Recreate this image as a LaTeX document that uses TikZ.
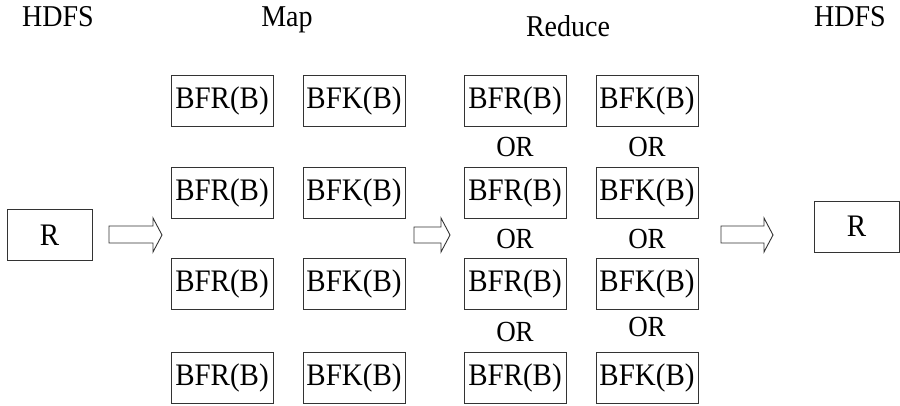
\documentclass[tikz,border=0pt]{standalone}
\usepackage{fontspec}
\setmainfont{Liberation Serif}
% text drawn slightly taller than wide, as in a narrow Times cut
\newcommand{\tallish}[1]{\scalebox{1}[1.08]{#1}}
\begin{document}
\begin{tikzpicture}[x=1pt,y=-1pt,
  cell/.style={draw=black!80,line width=0.9pt,rectangle,inner sep=0pt,
    minimum width=102pt,minimum height=51pt,
    font=\fontsize{29}{29}\selectfont},
  rbox/.style={draw=black!80,line width=0.9pt,rectangle,inner sep=0pt,
    minimum width=85pt,minimum height=51pt,
    font=\fontsize{29}{29}\selectfont},
  head/.style={anchor=base,inner sep=0pt,font=\fontsize{28}{28}\selectfont},
  orlabel/.style={inner sep=0pt,font=\fontsize{27}{27}\selectfont},
  blockarrow/.style={draw=black!80,line width=0.9pt,fill=white,line join=miter}]
\useasboundingbox (0,0) rectangle (900,406);

% stage titles
\node[head] (h1) at (58,27) {\tallish{HDFS}};
\node[head] (h2) at (287,27) {\tallish{Map}};
\node[head] (h3) at (568,37) {\tallish{Reduce}};
\node[head] (h4) at (850,27) {\tallish{HDFS}};

% input and output
\node[rbox] (rin) at (49.5,235) {\tallish{R}};
\node[rbox] (rout) at (856.5,226.5) {\tallish{R}};

% map and reduce tasks
\foreach \y [count=\r] in {101,192.5,284,378}{
  \node[cell] (m\r a) at (222,\y) {\tallish{BFR(B)}};
  \node[cell] (m\r b) at (354,\y) {\tallish{BFK(B)}};
  \node[cell] (r\r a) at (515,\y) {\tallish{BFR(B)}};
  \node[cell] (r\r b) at (647,\y) {\tallish{BFK(B)}};
}

% alternatives between reduce tasks
\node[orlabel] (o1a) at (515,147) {\tallish{OR}};
\node[orlabel] (o1b) at (647,147) {\tallish{OR}};
\node[orlabel] (o2a) at (515,238.5) {\tallish{OR}};
\node[orlabel] (o2b) at (647,238.5) {\tallish{OR}};
\node[orlabel] (o3a) at (515,332) {\tallish{OR}};
\node[orlabel] (o3b) at (647,327) {\tallish{OR}};

% flow arrows between stages
\draw[blockarrow] (109,226) -- (153,226) -- (153,218) -- (162,235)
  -- (153,252) -- (153,243) -- (109,243) -- cycle;
\draw[blockarrow] (414,227) -- (441,227) -- (441,218) -- (450,235)
  -- (441,252) -- (441,243) -- (414,243) -- cycle;
\draw[blockarrow] (721,226) -- (764,226) -- (764,218) -- (773,235)
  -- (764,252) -- (764,243) -- (721,243) -- cycle;
\end{tikzpicture}
\end{document}
